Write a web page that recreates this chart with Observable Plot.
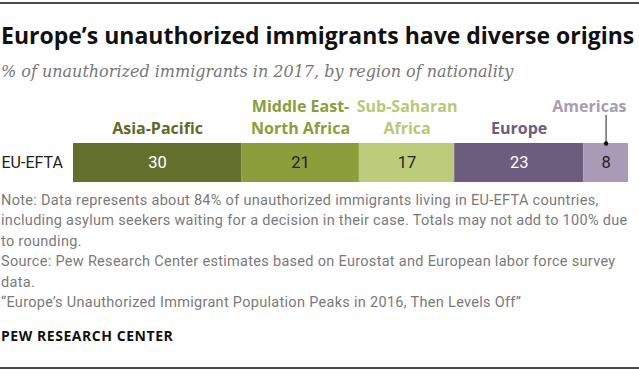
<!DOCTYPE html>
<html>
<head>
<meta charset="utf-8">
<script src="https://cdn.jsdelivr.net/npm/d3@7"></script>
<script src="https://cdn.jsdelivr.net/npm/@observablehq/plot@0.6"></script>
<style>
  html, body { margin: 0; padding: 0; background: #fff; }
  #wrap { position: relative; width: 639px; height: 373px; overflow: hidden; font-family: Roboto, "Liberation Sans", sans-serif; }
  .rule { position: absolute; left: 0; width: 639px; height: 2px; background: #4a4a4a; }
  .t { position: absolute; left: 1px; white-space: nowrap; }
  #title { top: 24px; font-family: "Open Sans", Roboto, sans-serif; font-size: 23px; line-height: 23px; font-weight: 700; color: #111; letter-spacing: 0px; }
  #subtitle { top: 63.5px; font-family: "DejaVu Serif", Georgia, serif; font-style: italic; font-size: 16px; line-height: 16px; color: #777; }
  #notes { top: 191px; font-size: 14.5px; line-height: 20.4px; letter-spacing: 0.3px; color: #7a7a7a; }
  #brand { top: 329px; font-family: "Open Sans", Roboto, sans-serif; font-size: 14px; line-height: 14px; font-weight: 700; letter-spacing: 0.55px; color: #111; }
  #chart { position: absolute; top: 90px; left: 0; }
</style>
</head>
<body>
<div id="wrap">
  <div class="rule" style="top:2px"></div>
  <div class="t" id="title">Europe’s unauthorized immigrants have diverse origins</div>
  <div class="t" id="subtitle">% of unauthorized immigrants in 2017, by region of nationality</div>
  <div id="chart"></div>
  <div class="t" id="notes">Note: Data represents about 84% of unauthorized immigrants living in EU-EFTA countries,<br>including asylum seekers waiting for a decision in their case. Totals may not add to 100% due<br>to rounding.<br>Source: Pew Research Center estimates based on Eurostat and European labor force survey<br>data.<br>“Europe’s Unauthorized Immigrant Population Peaks in 2016, Then Levels Off”</div>
  <div class="t" id="brand">PEW RESEARCH CENTER</div>
  <div class="rule" style="top:367px"></div>
</div>
<script>
const group = "EU-EFTA";
const regions = ["Asia-Pacific", "Middle East-North Africa", "Sub-Saharan Africa", "Europe", "Americas"];
const regionLabels = ["Asia-Pacific", "Middle East-\nNorth Africa", "Sub-Saharan\nAfrica", "Europe", "Americas"];
const values = [30, 21, 17, 23, 8];
const barColors = ["#636f2d", "#8b9e3c", "#bccc7a", "#6c5c7e", "#a99bb5"];
const labelColors = ["#5e6b2a", "#8b9e3c", "#b7c877", "#6c5c7e", "#a99bb5"];
const valueColors = ["#ffffff", "#222222", "#222222", "#ffffff", "#222222"];

let acc = 0;
const rows = regions.map((r, i) => {
  const x1 = acc; acc += values[i];
  return {region: r, label: regionLabels[i], value: values[i], x1, x2: acc, mid: (x1 + acc) / 2,
          group, fill: barColors[i], lc: labelColors[i], vc: valueColors[i]};
});
const total = acc;
const last = rows.filter(d => d.region === "Americas");
const others = rows.filter(d => d.region !== "Americas");

const labelFont = "'Open Sans', Roboto, sans-serif";

const chart = Plot.plot({
  width: 639,
  height: 100,
  marginLeft: 73,
  marginRight: 11,
  marginTop: 53,
  marginBottom: 8,
  x: {domain: [0, total], axis: null},
  y: {domain: [group], axis: null, padding: 0},
  style: {fontFamily: "Roboto, 'Liberation Sans', sans-serif", background: "transparent"},
  marks: [
    Plot.barX(rows, {x1: "x1", x2: "x2", y: "group", fill: "fill"}),
    Plot.text(rows, {x: "mid", y: "group", text: d => String(d.value), fill: "vc", fontSize: 16.5}),
    Plot.text(others, {x: "mid", y: "group", text: "label", fill: "lc", fontSize: 16, fontWeight: 700,
      fontFamily: labelFont, lineAnchor: "bottom", lineHeight: 1.375, dy: -29.5}),
    Plot.text(last, {x: "x2", y: "group", text: "label", fill: "lc", fontSize: 16, fontWeight: 700,
      fontFamily: labelFont, lineAnchor: "bottom", textAnchor: "end", dx: -2, dy: -51.5}),
    Plot.ruleX(last, {x: "mid", stroke: "#222", strokeWidth: 1, insetTop: -28, insetBottom: 39}),
    Plot.dot(last, {x: "mid", y: "group", r: 2.2, fill: "#111", stroke: null, dy: -19.5}),
    Plot.text([group], {y: d => d, text: d => d, frameAnchor: "left", textAnchor: "start", dx: -72, fontSize: 16, fill: "#222"})
  ]
});
document.getElementById("chart").appendChild(chart);
</script>
</body>
</html>
